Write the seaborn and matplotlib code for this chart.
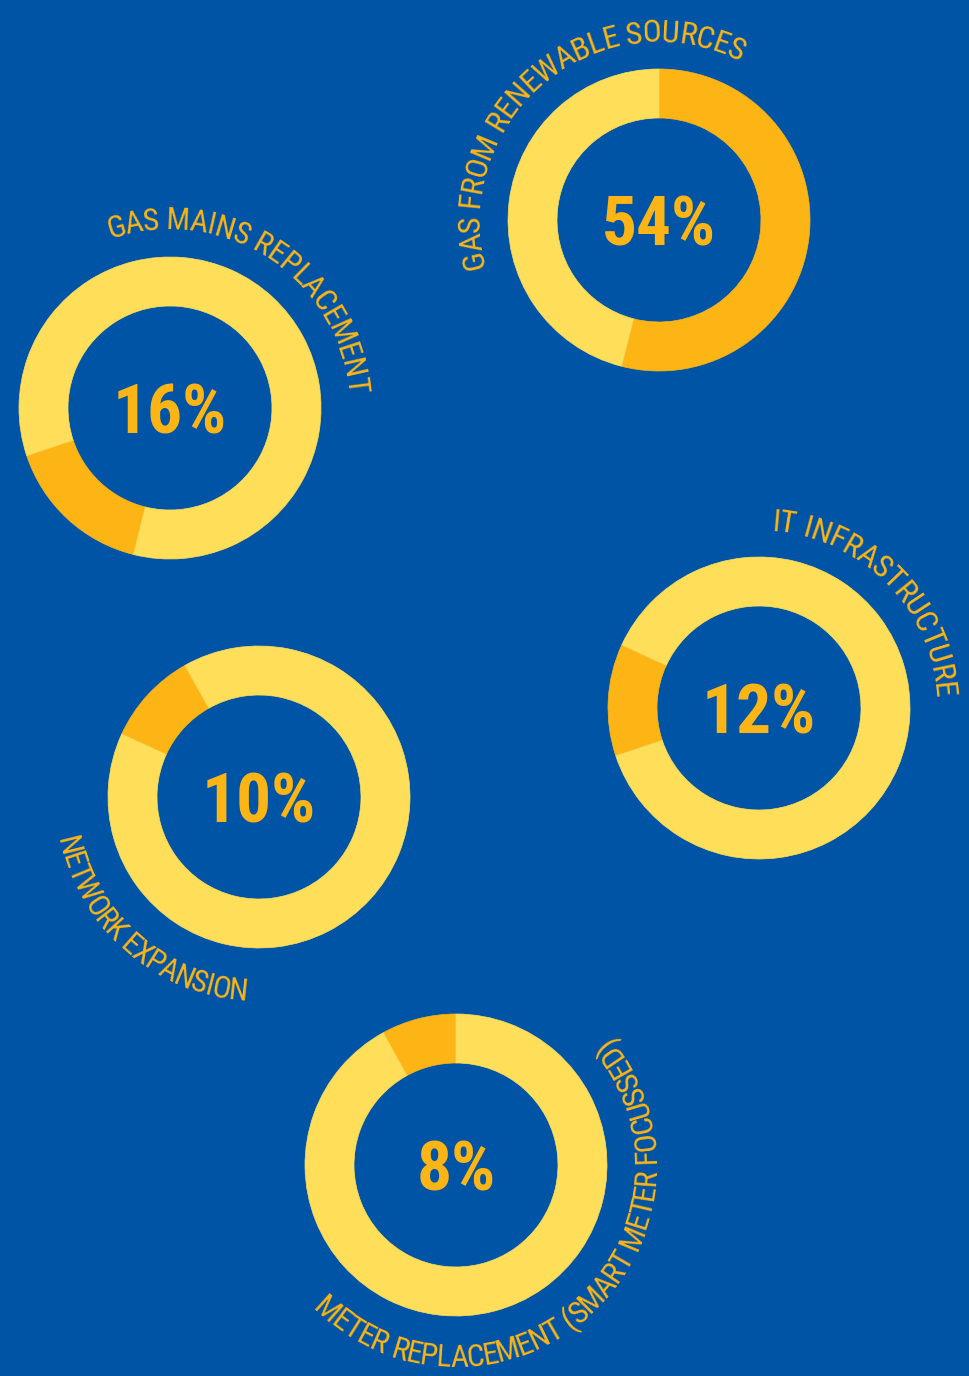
import os
import glob
import numpy as np
import pandas as pd
import matplotlib
matplotlib.use("Agg")
import matplotlib.pyplot as plt
import seaborn as sns
from matplotlib import font_manager as fm
from matplotlib.textpath import TextPath

# ---------------- data ----------------
categories = [
    "GAS FROM RENEWABLE SOURCES",
    "GAS MAINS REPLACEMENT",
    "IT INFRASTRUCTURE",
    "NETWORK EXPANSION",
    "METER REPLACEMENT (SMART METER FOCUSSED)",
]
shares = [54, 16, 12, 10, 8]
pct_labels = ["54%", "16%", "12%", "10%", "8%"]

# ---------------- layout (pixels, y measured downward from the top) ----------------
W, H = 969, 1376
centers_px = [(659, 220), (170, 408), (759, 708), (259, 797), (456, 1165)]
outer_r = 151
inner_r = 102
seg_start = [0, 194, 251.5, 294.6, 331.2]          # clockwise from 12 o'clock
label_r = [178, 179, 178, 204, 202]                 # baseline radius of curved labels
label_span = [(-105.7, 27.0), (-19.5, 85.2), (3.9, 86.1), (258.8, 183.6), (225.0, 50.5)]
label_scale = 1.05                                  # glyph size vs. natural fit

# ---------------- styles ----------------
BG = "#0054A6"
LIGHT = "#FFDE59"
DARK = "#FDB515"
TXT = "#FDB515"

sns.set_theme(style="white", rc={"figure.facecolor": BG, "axes.facecolor": BG,
                                 "savefig.facecolor": BG})
palette = sns.color_palette([DARK, LIGHT])


def find_font(names, fallback):
    files = [f.fname for f in fm.fontManager.ttflist]
    files += glob.glob('/usr/share/fonts/**/*.ttf', recursive=True)
    files += glob.glob('/usr/share/fonts/**/*.otf', recursive=True)
    lower = {}
    for p in files:
        lower.setdefault(os.path.basename(p).lower(), p)
    for n in names:
        p = lower.get(n.lower())
        if p:
            return fm.FontProperties(fname=p)
    return fallback


fp_label = find_font([
    "NotoSans-ExtraCondensedMedium.ttf", "NotoSans-ExtraCondensed.ttf",
    "NotoSans-CondensedMedium.ttf", "NotoSans-Condensed.ttf",
    "RobotoCondensed-Regular.ttf", "RobotoCondensed-Medium.ttf",
    "LiberationSansNarrow-Regular.ttf", "DejaVuSansCondensed.ttf"],
    fm.FontProperties(family="DejaVu Sans", stretch="condensed"))
fp_bold = find_font([
    "NotoSans-ExtraCondensedBold.ttf", "NotoSans-ExtraCondensedExtraBold.ttf",
    "NotoSans-CondensedBold.ttf", "RobotoCondensed-Bold.ttf",
    "LiberationSansNarrow-Bold.ttf", "DejaVuSansCondensed-Bold.ttf"],
    fm.FontProperties(family="DejaVu Sans", stretch="condensed", weight="bold"))


def font_file(fp):
    f = fp.get_file()
    return f if f else fm.findfont(fp)


def metrics100(text, fp):
    """advance and left side bearing of each glyph at a 100 px size"""
    font = fm.get_font(font_file(fp))
    font.set_size(100, 72)
    adv, lsb = [], []
    for ch in text:
        g = font.load_char(ord(ch))
        adv.append(g.linearHoriAdvance / 65536)
        if ch == " ":
            lsb.append(0.0)
        else:
            lsb.append(TextPath((0, 0), ch, size=100, prop=fp).get_extents().x0)
    return np.array(adv), np.array(lsb)


def with_size(fp, size_px):
    f = fp.copy()
    f.set_size(size_px * 72 / 100)
    return f


cap_ratio = TextPath((0, 0), "H", size=100, prop=fp_label).get_extents().height / 100
max_label_px = 25 / cap_ratio


def curved(ax, text, cx, cy, r, th0, th1, fp, color):
    adv100, lsb100 = metrics100(text, fp)
    L = r * np.radians(abs(th1 - th0))
    fit_px = 100 * L / adv100.sum()
    size_px = min(fit_px * label_scale, max_label_px)
    adv = adv100 * size_px / 100
    lsb = lsb100 * size_px / 100
    squeeze = min(1.0, L / adv.sum())
    step = adv * squeeze
    sign = 1 if th1 > th0 else -1
    fps = with_size(fp, size_px)
    s = (L - step.sum()) / 2
    for ch, a, st, lb in zip(text, adv, step, lsb):
        mid = s + st / 2
        s += st
        if ch == " ":
            continue
        th = th0 + sign * np.degrees(mid / r)
        alpha = np.radians(90 - th)
        px = cx + r * np.cos(alpha)
        py = cy + r * np.sin(alpha)
        rot = np.degrees(alpha) - 90 if sign > 0 else np.degrees(alpha) + 90
        t = np.array([np.cos(np.radians(rot)), np.sin(np.radians(rot))])
        # glyph origin so that its advance box is centred on the arc point
        ox, oy = np.array([px, py]) - (a / 2) * t
        # Agg shifts the glyph image by its left bearing along screen x
        ox, oy = np.array([ox, oy]) + lb * t - lb * np.array([1.0, 0.0])
        ax.text(ox, oy, ch, rotation=rot, ha="left", va="baseline",
                rotation_mode="anchor", fontproperties=fps, color=color)


df = pd.DataFrame({"category": categories, "share": shares, "label": pct_labels})

fig = plt.figure(figsize=(W / 100, H / 100), dpi=100)
ax = fig.add_axes([0, 0, 1, 1])

for i, row in df.iterrows():
    cx, cy = centers_px[i][0], H - centers_px[i][1]
    wedges, _ = ax.pie([row["share"], 100 - row["share"]], colors=palette,
                       startangle=90 - seg_start[i], counterclock=False,
                       center=(cx, cy), radius=outer_r,
                       wedgeprops=dict(width=outer_r - inner_r))
    for w in wedges:
        w.set_edgecolor(w.get_facecolor())
        w.set_linewidth(0.5)
    curved(ax, row["category"], cx, cy, label_r[i],
           label_span[i][0], label_span[i][1], fp_label, TXT)

# percentage labels
digit_ratio = TextPath((0, 0), "0", size=100, prop=fp_bold).get_extents().height / 100
w54 = TextPath((0, 0), "54%", size=100, prop=fp_bold).get_extents().width / 100
size_h = 53 / digit_ratio
size_w = 102 / w54
pct_px = min(size_h, size_w * 1.06)
fpb = with_size(fp_bold, pct_px)
dh = digit_ratio * pct_px
for i, row in df.iterrows():
    cx, cy = centers_px[i][0], H - centers_px[i][1]
    ax.text(cx, cy - dh / 2, row["label"], ha="center", va="baseline",
            fontproperties=fpb, color=TXT)

ax.set_xlim(0, W)
ax.set_ylim(0, H)
ax.set_aspect("auto")
ax.axis("off")
fig.savefig("out.png", dpi=100, facecolor=BG)
